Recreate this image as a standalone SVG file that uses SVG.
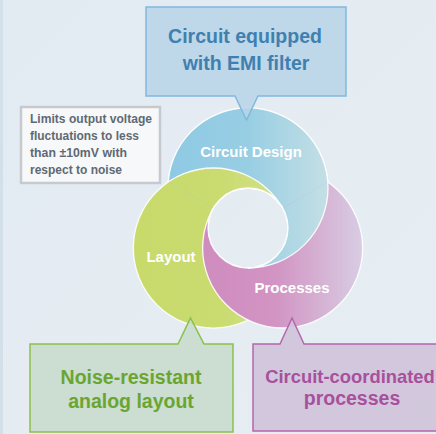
<svg xmlns="http://www.w3.org/2000/svg" xmlns:xlink="http://www.w3.org/1999/xlink" width="436" height="434" viewBox="0 0 436 434">
<defs>
<linearGradient id="bg" x1="0" y1="0" x2="1" y2="1">
<stop offset="0" stop-color="#e3ebf2"/><stop offset="1" stop-color="#e6edf3"/>
</linearGradient>
<linearGradient id="gBlue" gradientUnits="userSpaceOnUse" x1="168" y1="0" x2="328" y2="0">
<stop offset="0" stop-color="#8ec9e4"/><stop offset="0.5" stop-color="#98cee3"/><stop offset="1" stop-color="#c4dfe5"/>
</linearGradient>
<linearGradient id="gGreen" gradientUnits="userSpaceOnUse" x1="133" y1="0" x2="293" y2="0">
<stop offset="0" stop-color="#c7da6a"/><stop offset="0.55" stop-color="#cadb70"/><stop offset="1" stop-color="#d6e290"/>
</linearGradient>
<linearGradient id="gPink" gradientUnits="userSpaceOnUse" x1="203" y1="0" x2="363" y2="0">
<stop offset="0" stop-color="#cf8cbf"/><stop offset="0.45" stop-color="#d294c3"/><stop offset="1" stop-color="#d8cde3"/>
</linearGradient>
<path id="cBlue" fill-rule="evenodd" d="M168,188 a80,80 0 1,0 160,0 a80,80 0 1,0 -160,0 Z M208,228 a40,40 0 1,0 80,0 a40,40 0 1,0 -80,0 Z"/>
<path id="cGreen" fill-rule="evenodd" d="M133.36,248 a80,80 0 1,0 160,0 a80,80 0 1,0 -160,0 Z M208,228 a40,40 0 1,0 80,0 a40,40 0 1,0 -80,0 Z"/>
<path id="cPink" fill-rule="evenodd" d="M202.64,248 a80,80 0 1,0 160,0 a80,80 0 1,0 -160,0 Z M208,228 a40,40 0 1,0 80,0 a40,40 0 1,0 -80,0 Z"/>
<clipPath id="s1"><polygon points="248,228 469.7,100 480,100 480,450 248,450"/></clipPath>
<clipPath id="s3"><polygon points="248,228 26.3,100 20,100 20,-50 480,-50 480,100 469.7,100"/></clipPath>
<style>
.ring{stroke:#ffffff;stroke-width:1.3;stroke-opacity:0.9}
.lbl{font-family:"Liberation Sans",Arial,sans-serif;font-weight:bold;font-size:15px;fill:#ffffff;text-anchor:middle}
.big{font-family:"Liberation Sans",Arial,sans-serif;font-weight:bold;font-size:19.5px;text-anchor:middle}
.note{font-family:"Liberation Sans",Arial,sans-serif;font-weight:bold;font-size:13.5px;fill:#5f6973}
</style>
</defs>
<rect x="0" y="0" width="436" height="434" fill="url(#bg)"/>
<rect x="0" y="0" width="3" height="434" fill="#d3dfe9"/>

<g id="rings">
<use xlink:href="#cBlue" fill="url(#gBlue)" class="ring"/>
<use xlink:href="#cGreen" fill="url(#gGreen)" class="ring"/>
<use xlink:href="#cPink" fill="url(#gPink)" class="ring"/>
<use xlink:href="#cBlue" fill="url(#gBlue)" class="ring" clip-path="url(#s1)"/>
<use xlink:href="#cBlue" fill="url(#gBlue)" class="ring" clip-path="url(#s3)"/>
<use xlink:href="#cGreen" fill="url(#gGreen)" class="ring" clip-path="url(#s3)"/>
</g>

<g id="node-circuit-design"><text class="lbl" x="251" y="157">Circuit Design</text></g>
<g id="node-layout"><text class="lbl" x="171" y="262">Layout</text></g>
<g id="node-processes"><text class="lbl" x="292" y="293">Processes</text></g>

<g id="connectors"></g>

<g id="callout-emi">
<path d="M146,7 H346 V96 H258 L246.5,120 L235,96 H146 Z" fill="#b8d4e7" fill-opacity="0.88" stroke="#80b9e0" stroke-width="1.5"/>
<text class="big" fill="#3f80b0" x="245" y="43">Circuit equipped</text>
<text class="big" fill="#3f80b0" x="246" y="70">with EMI filter</text>
</g>

<g id="note-limits">
<rect x="21" y="107" width="139" height="76" fill="#f7f8fa" stroke="#c6cacf" stroke-width="2.5"/>
<text class="note" x="30" y="123" textLength="122" lengthAdjust="spacingAndGlyphs">Limits output voltage</text>
<text class="note" x="30" y="140" textLength="109" lengthAdjust="spacingAndGlyphs">fluctuations to less</text>
<text class="note" x="30" y="157" textLength="97" lengthAdjust="spacingAndGlyphs">than ±10mV with</text>
<text class="note" x="30" y="174" textLength="92" lengthAdjust="spacingAndGlyphs">respect to noise</text>
</g>

<g id="callout-layout">
<path d="M30,344 H178 L190.5,318 L204,344 H233 V432 H30 Z" fill="#c9dbcd" fill-opacity="0.9" stroke="#8cc04c" stroke-width="1.5"/>
<text class="big" fill="#6aa530" x="131" y="384">Noise-resistant</text>
<text class="big" fill="#6aa530" x="131" y="408">analog layout</text>
</g>

<g id="callout-processes">
<path d="M253,344 H280 L292,318 L304,344 H440 V431 H253 Z" fill="#cfc3d9" fill-opacity="0.9" stroke="#b466ab" stroke-width="1.5"/>
<text class="big" fill="#a8509c" x="350" y="383" style="font-size:18.4px">Circuit-coordinated</text>
<text class="big" fill="#a8509c" x="352" y="405">processes</text>
</g>
</svg>
